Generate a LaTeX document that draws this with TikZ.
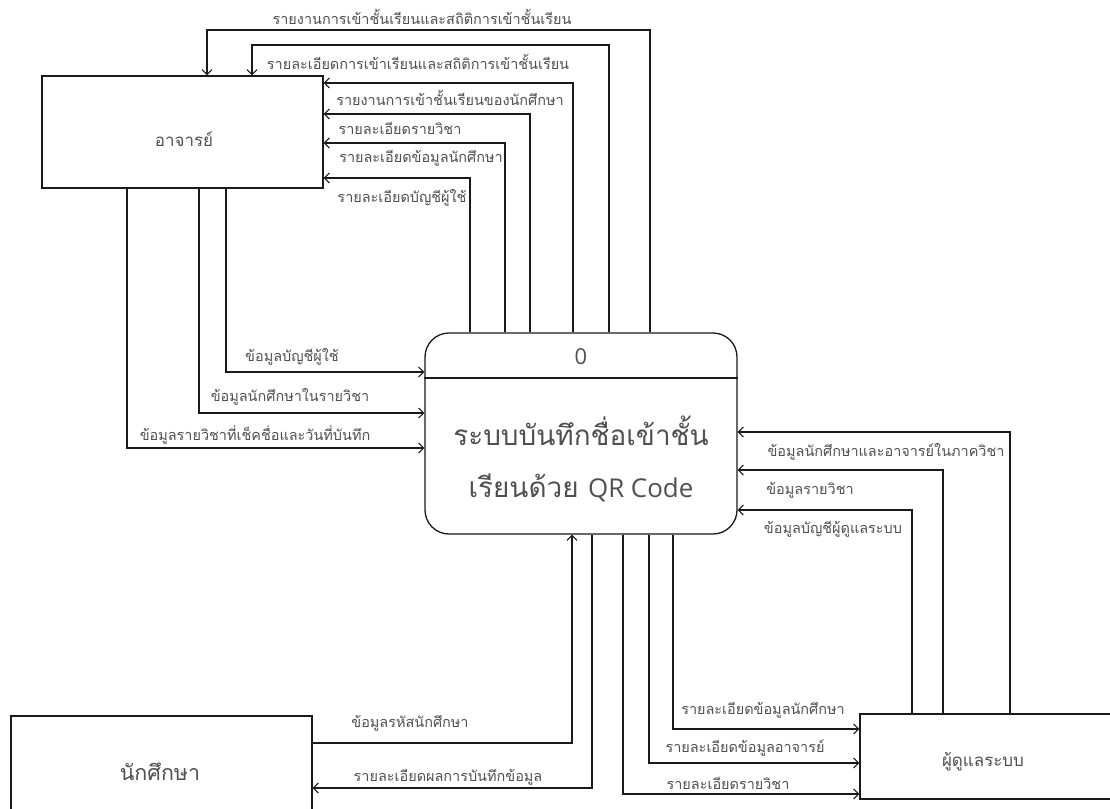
\documentclass[tikz,border=0pt]{standalone}
\usepackage{fontspec}
\setmainfont[Script=Thai]{Loma}
\newfontfamily\latinfont{Open Sans}
\usetikzlibrary{arrows.meta,calc}
\definecolor{txt}{HTML}{505050}
\definecolor{ln}{HTML}{1A1A1A}
\tikzset{
  flow/.style={draw=ln, line width=1.2pt, -{Straight Barb[length=5pt,width=10pt,line width=1.1pt]}},
  ent/.style={draw=ln, line width=1.3pt, rectangle, inner sep=0pt},
  lbl/.style={text=txt, font=\fontsize{14.5}{16}\selectfont, inner sep=0pt},
  big/.style={text=txt, font=\fontsize{17}{20}\selectfont, inner sep=0pt},
}
\begin{document}
\begin{tikzpicture}[x=1bp,y=-1bp]
\useasboundingbox (0,0) rectangle (1110,809);
\clip (0,0) rectangle (1110,809);
\fill[white] (0,0) rectangle (1110,809);

% entities
\node[ent, minimum width=281bp, minimum height=112bp] (teacher) at (182.5,132) {};
\node[big] (teachertxt) at (184,139) {อาจารย์};
\node[ent, minimum width=301bp, minimum height=110bp] (student) at (161.5,771) {};
\node[big, font=\fontsize{21.5}{24}\selectfont] (studenttxt) at (160,772) {นักศึกษา};
\node[ent, minimum width=254bp, minimum height=85bp] (admin) at (987,756.5) {};
\node[big] (admintxt) at (983,762) {ผู้ดูแลระบบ};

% process
\node[draw=ln, line width=1.3pt, rectangle, rounded corners=24bp, minimum width=312bp, minimum height=201bp, inner sep=0pt] (process) at (581,433.5) {};
\draw[ln, line width=1.3pt] (process.west |- 0,378) -- (process.east |- 0,378);
\node[text=txt, font=\latinfont\fontsize{22}{24}\selectfont, inner sep=0pt] (pnum) at (581,357) {0};
\node[text=txt, font=\fontsize{28}{52}\selectfont, align=center, inner sep=0pt] (ptitle) at (581,459) {ระบบบันทึกชื่อเข้าชั้น\\[0pt]เรียนด้วย {\latinfont\fontsize{26}{52}\selectfont QR Code}};

% process -> teacher (top)
\draw[flow] (650,0 |- process.north) |- (207,30) -- (207,0 |- teacher.north);
\draw[flow] (609,0 |- process.north) |- (252,45) -- (252,0 |- teacher.north);
\draw[flow] (573,0 |- process.north) |- (teacher.east |- 0,83);
\draw[flow] (530,0 |- process.north) |- (teacher.east |- 0,114);
\draw[flow] (505,0 |- process.north) |- (teacher.east |- 0,143);
\draw[flow] (470,0 |- process.north) |- (teacher.east |- 0,178);
\node[lbl] (l1) at (422,17) {รายงานการเข้าชั้นเรียนและสถิติการเข้าชั้นเรียน};
\node[lbl] (l2) at (418,62) {รายละเอียดการเข้าเรียนและสถิติการเข้าชั้นเรียน};
\node[lbl] (l3) at (450,98) {รายงานการเข้าชั้นเรียนของนักศึกษา};
\node[lbl] (l4) at (400,128) {รายละเอียดรายวิชา};
\node[lbl] (l5) at (421,158) {รายละเอียดข้อมูลนักศึกษา};
\node[lbl] (l6) at (402,198) {รายละเอียดบัญชีผู้ใช้};

% teacher -> process (left)
\draw[flow] (226,0 |- teacher.south) |- (process.west |- 0,372);
\draw[flow] (199,0 |- teacher.south) |- (process.west |- 0,413);
\draw[flow] (127,0 |- teacher.south) |- (process.west |- 0,448);
\node[lbl] (l7) at (292,357) {ข้อมูลบัญชีผู้ใช้};
\node[lbl] (l8) at (290,397) {ข้อมูลนักศึกษาในรายวิชา};
\node[lbl] (l9) at (255,435) {ข้อมูลรายวิชาที่เช็คชื่อและวันที่บันทึก};

% admin -> process (right)
\draw[flow] (1010,0 |- admin.north) |- (process.east |- 0,432);
\draw[flow] (943,0 |- admin.north) |- (process.east |- 0,470);
\draw[flow] (912,0 |- admin.north) |- (process.east |- 0,510);
\node[lbl] (l10) at (886,452) {ข้อมูลนักศึกษาและอาจารย์ในภาควิชา};
\node[lbl] (l11) at (810,490) {ข้อมูลรายวิชา};
\node[lbl] (l12) at (833,529) {ข้อมูลบัญชีผู้ดูแลระบบ};

% process -> admin (bottom)
\draw[flow] (673,0 |- process.south) |- (admin.west |- 0,729);
\draw[flow] (649,0 |- process.south) |- (admin.west |- 0,763);
\draw[flow] (623,0 |- process.south) |- (admin.west |- 0,794);
\node[lbl] (l13) at (763,710) {รายละเอียดข้อมูลนักศึกษา};
\node[lbl] (l14) at (745,748) {รายละเอียดข้อมูลอาจารย์};
\node[lbl] (l15) at (728,783) {รายละเอียดรายวิชา};

% student <-> process
\draw[flow] (student.east |- 0,743) -| (572,0 |- process.south);
\draw[flow] (592,0 |- process.south) |- (student.east |- 0,788);
\node[lbl] (l16) at (410,723) {ข้อมูลรหัสนักศึกษา};
\node[lbl] (l17) at (448,777) {รายละเอียดผลการบันทึกข้อมูล};
\end{tikzpicture}
\end{document}
